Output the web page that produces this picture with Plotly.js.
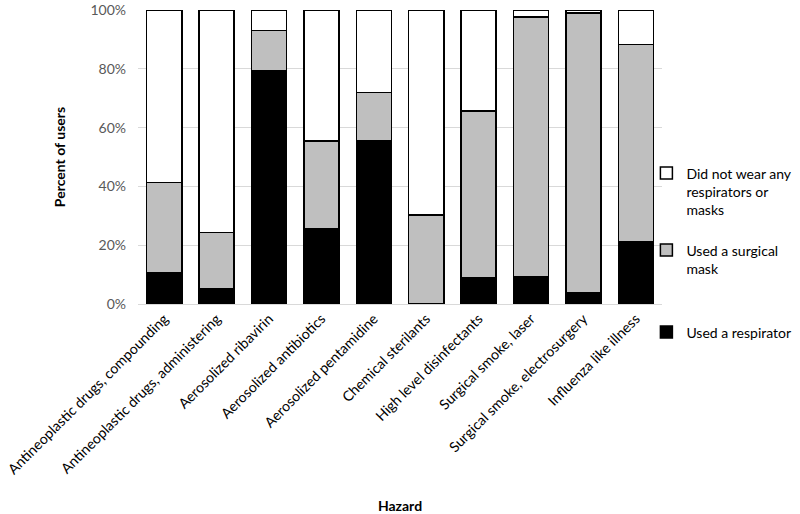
<!DOCTYPE html>
<html>
<head>
<meta charset="utf-8">
<script src="https://cdn.plot.ly/plotly-3.0.1.min.js"></script>
<style>html,body{margin:0;padding:0;background:#fff;}#chart{width:800px;height:514px;}</style>
</head>
<body>
<div id="chart"></div>
<script>
const categories = [
  "Antineoplastic drugs, compounding",
  "Antineoplastic drugs, administering",
  "Aerosolized ribavirin",
  "Aerosolized antibiotics",
  "Aerosolized pentamidine",
  "Chemical sterilants",
  "High level disinfectants",
  "Surgical smoke, laser",
  "Surgical smoke, electrosurgery",
  "Influenza like illness"
];
const usedRespirator = [10.7, 5.1, 79.4, 25.5, 55.5, 0, 9.0, 9.4, 3.7, 21.1];
const usedSurgicalMask = [30.7, 19.2, 13.6, 29.9, 16.5, 30.2, 56.6, 88.3, 95.2, 67.1];
const noProtection = [58.6, 75.7, 7.0, 44.6, 28.0, 69.8, 34.4, 2.3, 1.1, 11.8];
const seriesNames = [
  "Used a respirator",
  "Used a surgical<br>mask",
  "Did not wear any<br>respirators or<br>masks"
];
const seriesColors = ["#000000", "#bfbfbf", "#ffffff"];
const legendIds = ["legend3", "legend2", "legend"];
const yTickVals = [0, 20, 40, 60, 80, 100];
const yTickText = ["0%", "20%", "40%", "60%", "80%", "100%"];

const seriesValues = [usedRespirator, usedSurgicalMask, noProtection];
const traces = seriesValues.map((vals, i) => ({
  type: "bar",
  x: categories,
  y: vals,
  name: seriesNames[i],
  legend: legendIds[i],
  marker: { color: seriesColors[i], line: { color: "#000000", width: 1.5 } },
  hoverinfo: "x+y+name"
}));

function legendAt(yTop) {
  return {
    xref: "container",
    x: 0.808,
    xanchor: "left",
    yref: "container",
    y: yTop,
    yanchor: "top",
    valign: "top",
    itemwidth: 30,
    font: { size: 14, color: "#000000" },
    bgcolor: "rgba(0,0,0,0)"
  };
}

const layout = {
  width: 800,
  height: 514,
  margin: { l: 138, r: 138, t: 10, b: 210, autoexpand: false },
  paper_bgcolor: "#ffffff",
  plot_bgcolor: "#ffffff",
  barmode: "stack",
  bargap: 0.33,
  font: { family: "Lato, 'Open Sans', sans-serif", size: 14, color: "#000000" },
  xaxis: {
    type: "category",
    tickangle: -45,
    tickfont: { size: 14.2, color: "#000000" },
    showline: true,
    linecolor: "#d9d9d9",
    linewidth: 1,
    ticks: "",
    automargin: false,
    title: { text: "<b>Hazard</b>", font: { size: 14 }, standoff: 36 }
  },
  yaxis: {
    range: [0, 100],
    tickvals: yTickVals,
    ticktext: yTickText,
    tickfont: { size: 14, color: "#595959" },
    showgrid: true,
    gridcolor: "#d9d9d9",
    gridwidth: 1,
    zeroline: false,
    showline: false,
    ticks: "",
    ticklabelstandoff: 11,
    ticklabeloverflow: "allow",
    automargin: false,
    title: { text: "<b>Percent of users</b>", font: { size: 14 }, standoff: 21 }
  },
  legend: legendAt(1 - 157.5 / 514),
  legend2: legendAt(1 - 234.5 / 514),
  legend3: legendAt(1 - 316.5 / 514),
  showlegend: true
};

Plotly.newPlot("chart", traces, layout, { displayModeBar: false, staticPlot: true });
</script>
</body>
</html>
